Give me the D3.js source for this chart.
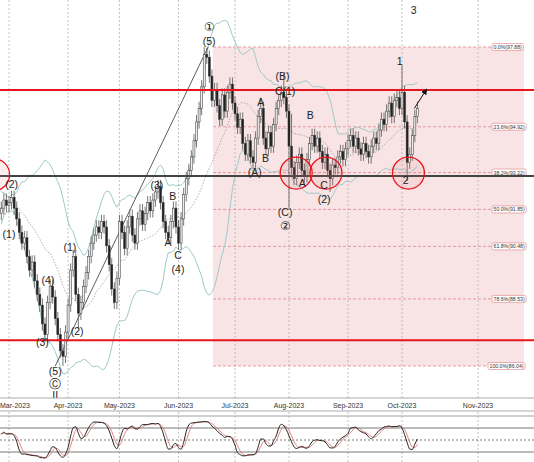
<!DOCTYPE html>
<html><head><meta charset="utf-8">
<script src="https://cdn.jsdelivr.net/npm/d3@7"></script>
<style>body{margin:0;background:#fff}svg{display:block;font-family:"Liberation Sans",Arial,sans-serif}</style>
</head><body><svg></svg>
<script>
// daily closes, bar 0 = 24 Feb 2023 (weekdays only)
const closes = [
  91.9, 92.2, 92.0,
  92.1, 92.3, 91.9, 91.5, 91.0, 90.6, 90.8, 90.1, 89.6, 89.9, 89.2, 88.7, 88.3, 87.6, 87.2, 88.4, 89.0, 88.6, 87.8, 87.2, 86.6, 86.4, 87.3,
  88.3, 89.6, 90.1, 88.7, 88.0, 88.4, 89.0, 89.5, 90.1, 90.6, 90.9, 91.2, 91.0, 91.4, 91.2, 90.5, 89.8, 88.9, 88.4, 89.3,
  91.4, 91.0, 90.4, 91.2, 91.6, 90.9, 90.6, 91.5, 91.8, 91.3, 91.7, 92.1, 91.8, 92.2, 92.5, 92.7, 92.1, 91.4, 91.0, 90.8, 91.4, 91.9, 91.2,
  90.6, 91.5, 92.4, 93.0, 93.3, 93.8, 94.4, 95.1, 95.6, 96.4, 97.6, 97.5, 96.8, 95.9, 96.3, 95.7, 95.2, 96.1, 95.5, 96.2, 96.5, 95.8,
  95.4, 94.9, 95.2, 94.3, 93.9, 94.4, 93.8, 93.6, 94.5, 95.3, 95.6, 94.5, 94.1, 94.7, 94.2, 95.0, 95.6, 95.9, 96.2, 96.0, 95.5,
  94.2, 93.4, 93.0, 93.6, 93.9, 93.3, 93.1, 93.7, 94.3, 94.6, 94.2, 94.5, 94.0, 93.6, 93.9, 93.3, 93.0, 93.5, 93.4, 93.8, 94.0, 93.7, 94.1,
  94.4, 94.6, 94.2, 94.5, 94.1, 93.9, 94.3, 94.0, 93.8, 94.2, 94.5, 94.3, 94.8, 95.2, 95.0, 95.5, 95.8, 95.3, 95.9, 96.0, 95.6,
  96.2, 95.1, 93.6, 93.9, 94.6, 95.3, 95.6
];
// long wicks [bar, price]
const extraHighs = [[79, 97.88], [110, 96.9], [156, 97.2], [101, 96.0], [113, 95.4]];
const extraLows = [[24, 86.04], [112, 91.9], [128, 92.5], [158, 92.9], [30, 87.4]];

const monthLabels = ["Mar-2023", "Apr-2023", "May-2023", "Jun-2023", "Jul-2023", "Aug-2023", "Sep-2023", "Oct-2023", "Nov-2023"];
const monthBars = [3, 26, 46, 69, 91, 112, 135, 156, 185.6];

const fibPcts = ["0.0%", "23.6%", "38.2%", "50.0%", "61.8%", "78.6%", "100.0%"];
const fibPrices = [97.88, 94.92, 93.22, 91.85, 90.48, 88.53, 86.04];

const redLevels = [96.28, 87.0];
const blackLevel = 93.09;

// wave labels: [bar, price, text]
const waveLabels = [
  [4, 92.75, "(2)"], [3, 90.9, "(1)"], [18.2, 89.2, "(4)"], [16, 86.9, "(3)"], [21, 85.8, "(5)"],
  [21, 85.35, "Ⓒ"], [21, 84.9, "II"], [26.7, 90.4, "(1)"], [29.5, 87.3, "(2)"], [60.6, 92.7, "(3)"],
  [66.8, 92.3, "B"], [64.9, 90.6, "A"], [68.8, 90.1, "C"], [68.8, 89.6, "(4)"], [80.9, 98.6, "①"],
  [80.9, 98.05, "(5)"], [101, 95.8, "A"], [102.9, 93.7, "B"], [98.7, 93.2, "(A)"], [109.5, 96.75, "(B)"],
  [110.5, 96.2, "C(1)"], [120.3, 95.3, "B"], [117.2, 92.8, "A"], [125.7, 92.7, "C"], [125.7, 92.2, "(2)"],
  [110.5, 91.7, "(C)"], [110.5, 91.2, "②"], [155.1, 97.3, "1"], [157.4, 92.9, "2"], [160.5, 99.2, "3"]
];
// highlight circles [bar, price]
const circles = [[-3, 93.14], [114.8, 93.2], [126.4, 93.2], [158.5, 93.2]];

const W = 534, H = 462;
const svg = d3.select("svg").attr("width", W).attr("height", H);

const x = d3.scaleLinear().domain([3, 156]).range([9, 402]);
const y = d3.scaleLinear().domain([86.04, 97.88]).range([366, 47]);

const bars = closes.map((c, i) => {
  const o = i ? closes[i - 1] : c - 0.2;
  return {i, o, c, h: Math.max(o, c) + 0.25, l: Math.min(o, c) - 0.25};
});
extraHighs.forEach(([i, v]) => bars[i].h = v);
extraLows.forEach(([i, v]) => bars[i].l = v);

// fib zone
svg.append("rect").attr("x", 213).attr("y", y(97.88)).attr("width", 311).attr("height", y(86.04) - y(97.88))
  .attr("fill", "#f4d2d4").attr("opacity", 0.6);

// month grid
svg.selectAll(".vg").data(monthBars).join("line")
  .attr("x1", d => x(d)).attr("x2", d => x(d)).attr("y1", 0).attr("y2", H)
  .attr("stroke", "#aaa").attr("stroke-dasharray", "2,2").attr("stroke-width", 0.7);

// fib lines
svg.selectAll(".fl").data(fibPrices).join("line")
  .attr("x1", 213).attr("x2", 524).attr("y1", d => y(d)).attr("y2", d => y(d))
  .attr("stroke", "#e07a80").attr("stroke-dasharray", "3,2").attr("stroke-width", 0.7);
fibPrices.forEach((p, k) => {
  const t = `${fibPcts[k]}(${p.toFixed(2)})`;
  const g = svg.append("g").attr("transform", `translate(${k === 6 ? 488 : 492},${y(p)})`);
  const txt = g.append("text").attr("x", 1.5).attr("y", 2).attr("font-size", 5.2).attr("fill", "#333").text(t);
  const w = txt.node().getComputedTextLength() + 3;
  g.insert("rect", "text").attr("x", 0).attr("y", -3.5).attr("width", w).attr("height", 7)
    .attr("fill", "#fff").attr("stroke", "#e07a80").attr("stroke-width", 0.6).attr("rx", 1.5);
});

// bollinger bands
const per = 20;
const bb = closes.map((c, i) => {
  const s = closes.slice(Math.max(0, i - per + 1), i + 1);
  const m = d3.mean(s), sd = d3.deviation(s) || 0.3;
  return {i, m, u: m + 2 * sd, d: m - 2 * sd};
});
const ln = k => d3.line().x(d => x(d.i)).y(d => y(d[k]));
svg.append("path").datum(bb).attr("d", ln("u")).attr("fill", "none").attr("stroke", "#9fc9c9").attr("stroke-width", 1);
svg.append("path").datum(bb).attr("d", ln("d")).attr("fill", "none").attr("stroke", "#9fc9c9").attr("stroke-width", 1);
svg.append("path").datum(bb).attr("d", ln("m")).attr("fill", "none").attr("stroke", "#999").attr("stroke-dasharray", "1.5,1.5").attr("stroke-width", 0.8);

// diagonal trend line
svg.append("line").attr("x1", x(21)).attr("y1", y(86.04)).attr("x2", x(80.5)).attr("y2", y(97.88))
  .attr("stroke", "#333").attr("stroke-width", 0.8);

// bars
const bg = svg.append("g");
bg.selectAll("line").data(bars).join("line")
  .attr("x1", d => x(d.i)).attr("x2", d => x(d.i)).attr("y1", d => y(d.h)).attr("y2", d => y(d.l))
  .attr("stroke", "#555").attr("stroke-width", 0.8);
bg.selectAll("rect").data(bars).join("rect")
  .attr("x", d => x(d.i) - 1).attr("width", 2)
  .attr("y", d => y(Math.max(d.o, d.c))).attr("height", d => Math.max(1, Math.abs(y(d.o) - y(d.c))))
  .attr("fill", d => d.c >= d.o ? "#eee" : "#222").attr("stroke", "#333").attr("stroke-width", 0.5);

// levels
redLevels.forEach(p => svg.append("line").attr("x1", 0).attr("x2", W).attr("y1", y(p)).attr("y2", y(p))
  .attr("stroke", "#e8141c").attr("stroke-width", 2));
svg.append("line").attr("x1", 0).attr("x2", W).attr("y1", y(blackLevel)).attr("y2", y(blackLevel))
  .attr("stroke", "#444").attr("stroke-width", 2);

// circles
svg.selectAll(".cc").data(circles).join("circle")
  .attr("cx", d => x(d[0])).attr("cy", d => y(d[1])).attr("r", 16)
  .attr("fill", "rgba(240,120,120,0.12)").attr("stroke", "#e8141c").attr("stroke-width", 1.3);

// arrow
svg.append("defs").append("marker").attr("id", "ah").attr("viewBox", "0 0 10 10").attr("refX", 8).attr("refY", 5)
  .attr("markerWidth", 6).attr("markerHeight", 6).attr("orient", "auto")
  .append("path").attr("d", "M0,0L10,5L0,10z").attr("fill", "#111");
svg.append("line").attr("x1", x(160.8)).attr("y1", y(95.6)).attr("x2", x(165.5)).attr("y2", y(96.3))
  .attr("stroke", "#111").attr("stroke-width", 1).attr("marker-end", "url(#ah)");

// wave labels
svg.selectAll(".wl").data(waveLabels).join("text")
  .attr("x", d => x(d[0])).attr("y", d => y(d[1])).attr("text-anchor", "middle").attr("dominant-baseline", "middle")
  .attr("font-size", d => /[①②Ⓒ]/.test(d[2]) ? 12 : 10.5).attr("fill", "#222").text(d => d[2]);

// date axis row
svg.append("rect").attr("x", -1).attr("y", 398).attr("width", W + 2).attr("height", 13).attr("fill", "#fff").attr("stroke", "#888").attr("stroke-width", 0.7);
svg.selectAll(".ml").data(monthLabels).join("text")
  .attr("x", (d, k) => Math.max(15, x(monthBars[k]))).attr("y", 408).attr("text-anchor", "middle")
  .attr("font-size", 7).attr("fill", "#333").text(d => d);

// stochastic panel
const sy = d3.scaleLinear().domain([0, 100]).range([460, 420]);
svg.append("rect").attr("x", -1).attr("y", 416).attr("width", W + 2).attr("height", 47).attr("fill", "#fff").attr("stroke", "#777").attr("stroke-width", 0.7);
svg.selectAll(".vg2").data(monthBars).join("line")
  .attr("x1", d => x(d)).attr("x2", d => x(d)).attr("y1", 416).attr("y2", H)
  .attr("stroke", "#aaa").attr("stroke-dasharray", "2,2").attr("stroke-width", 0.7);
[80, 20].forEach(v => svg.append("line").attr("x1", 0).attr("x2", W).attr("y1", sy(v)).attr("y2", sy(v)).attr("stroke", "#555").attr("stroke-width", 0.8));
svg.append("line").attr("x1", 0).attr("x2", W).attr("y1", sy(50)).attr("y2", sy(50)).attr("stroke", "#555").attr("stroke-dasharray", "2,2").attr("stroke-width", 0.8);

const kRaw = bars.map((b, i) => {
  const s = bars.slice(Math.max(0, i - 13), i + 1);
  const hi = d3.max(s, d => d.h), lo = d3.min(s, d => d.l);
  return 100 * (b.c - lo) / (hi - lo || 1);
});
const kS = kRaw.map((v, i) => d3.mean(kRaw.slice(Math.max(0, i - 2), i + 1)));
const dS = kS.map((v, i) => d3.mean(kS.slice(Math.max(0, i - 2), i + 1)));
const sl = d3.line().x((d, i) => x(i)).y(d => sy(d)).curve(d3.curveMonotoneX);
svg.append("path").datum(dS).attr("d", sl).attr("fill", "none").attr("stroke", "#d77").attr("stroke-width", 0.9);
svg.append("path").datum(kS).attr("d", sl).attr("fill", "none").attr("stroke", "#222").attr("stroke-width", 1);
</script></body></html>
